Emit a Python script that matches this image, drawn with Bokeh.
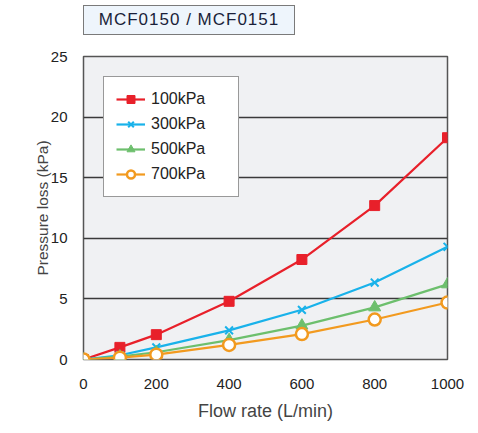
from bokeh.plotting import figure
from bokeh.models import Legend, LegendItem, FixedTicker, Range1d, Div
from bokeh.layouts import column
from bokeh.embed import file_html
from bokeh.resources import INLINE

flow = [0, 100, 200, 400, 600, 800, 1000]
p100 = [0, 1.0, 2.05, 4.8, 8.25, 12.7, 18.3]
p300 = [0, 0.35, 1.0, 2.4, 4.1, 6.35, 9.3]
p500 = [0, 0.25, 0.6, 1.6, 2.8, 4.3, 6.2]
p700 = [0, 0.15, 0.4, 1.2, 2.1, 3.3, 4.7]
labels = ["100kPa", "300kPa", "500kPa", "700kPa"]
x_ticks = [0, 200, 400, 600, 800, 1000]
y_ticks = [0, 5, 10, 15, 20, 25]
chart_title = "MCF0150 / MCF0151"

FONT = "Liberation Sans"

p = figure(width=470, height=390, output_backend="svg", toolbar_location=None,
           x_range=Range1d(0, 1000), y_range=Range1d(0, 25),
           min_border_left=83, min_border_right=23, min_border_top=21, min_border_bottom=66)
p.background_fill_color = "#f0f1f3"
p.border_fill_color = "white"
p.outline_line_color = "#555555"
p.outline_line_width = 1.5

p.xgrid.visible = False
p.ygrid.grid_line_color = "#3a3a3a"
p.ygrid.grid_line_width = 1.3

for ax in (p.xaxis[0], p.yaxis[0]):
    ax.axis_line_color = None
    ax.major_tick_line_color = None
    ax.minor_tick_line_color = None
    ax.major_label_text_font = FONT
    ax.major_label_text_font_size = "15px"
    ax.major_label_text_color = "#222222"
    ax.axis_label_text_font = FONT
    ax.axis_label_text_font_style = "normal"
    ax.axis_label_text_color = "#444444"

p.xaxis.axis_label_text_font_size = "18px"
p.yaxis.axis_label_text_font_size = "15.5px"
p.xaxis.ticker = FixedTicker(ticks=x_ticks)
p.yaxis.ticker = FixedTicker(ticks=y_ticks)
p.xaxis.major_label_standoff = 13
p.yaxis.major_label_standoff = 10
p.xaxis.axis_label = "Flow rate (L/min)"
p.yaxis.axis_label = "Pressure loss (kPa)"
p.xaxis.axis_label_standoff = 9
p.yaxis.axis_label_standoff = -3

red, blue, green, orange = "#e8202a", "#19b2ea", "#6dbf6d", "#f29a1f"

l1 = p.line(flow, p100, line_color=red, line_width=2.2)
m1 = p.scatter(flow, p100, marker="square", size=10, fill_color=red, line_color=red)
l2 = p.line(flow, p300, line_color=blue, line_width=2.2)
m2 = p.scatter(flow, p300, marker="x", size=11, line_color=blue, line_width=2)
l3 = p.line(flow, p500, line_color=green, line_width=2.2)
m3 = p.scatter(flow, p500, marker="triangle", size=12, fill_color=green, line_color=green)
l4 = p.line(flow, p700, line_color=orange, line_width=2.2)
m4 = p.scatter(flow, p700, marker="circle", size=12, fill_color="white", line_color=orange, line_width=2.5)

legend = Legend(items=[LegendItem(label=labels[0], renderers=[l1, m1]),
                       LegendItem(label=labels[1], renderers=[l2, m2]),
                       LegendItem(label=labels[2], renderers=[l3, m3]),
                       LegendItem(label=labels[3], renderers=[l4, m4])],
                location="top_left")
legend.margin = 20
legend.padding = 12
legend.spacing = 5
legend.glyph_width = 29
legend.glyph_height = 20
legend.label_height = 20
legend.label_width = 75
legend.label_standoff = 6
legend.label_text_font = FONT
legend.label_text_font_size = "16px"
legend.label_text_color = "#222222"
legend.border_line_color = "#333333"
legend.border_line_width = 1.2
legend.background_fill_color = "white"
legend.background_fill_alpha = 1
p.add_layout(legend)

title_html = (
    '<div style="margin:5px 0 0 83px; width:212px; height:30px; box-sizing:border-box; '
    'border:1.5px solid #7a7a7a; background:#eef5fc; color:#1a1f3a; '
    'font-family:\'Liberation Sans\'; font-size:17px; letter-spacing:1px; '
    'line-height:27px; text-align:center;">' + chart_title + '</div>'
)
div = Div(text=title_html, width=470, height=35, margin=(0, 0, 0, 0))

layout = column(div, p, spacing=0)
open("out.html", "w").write(file_html(layout, INLINE))
